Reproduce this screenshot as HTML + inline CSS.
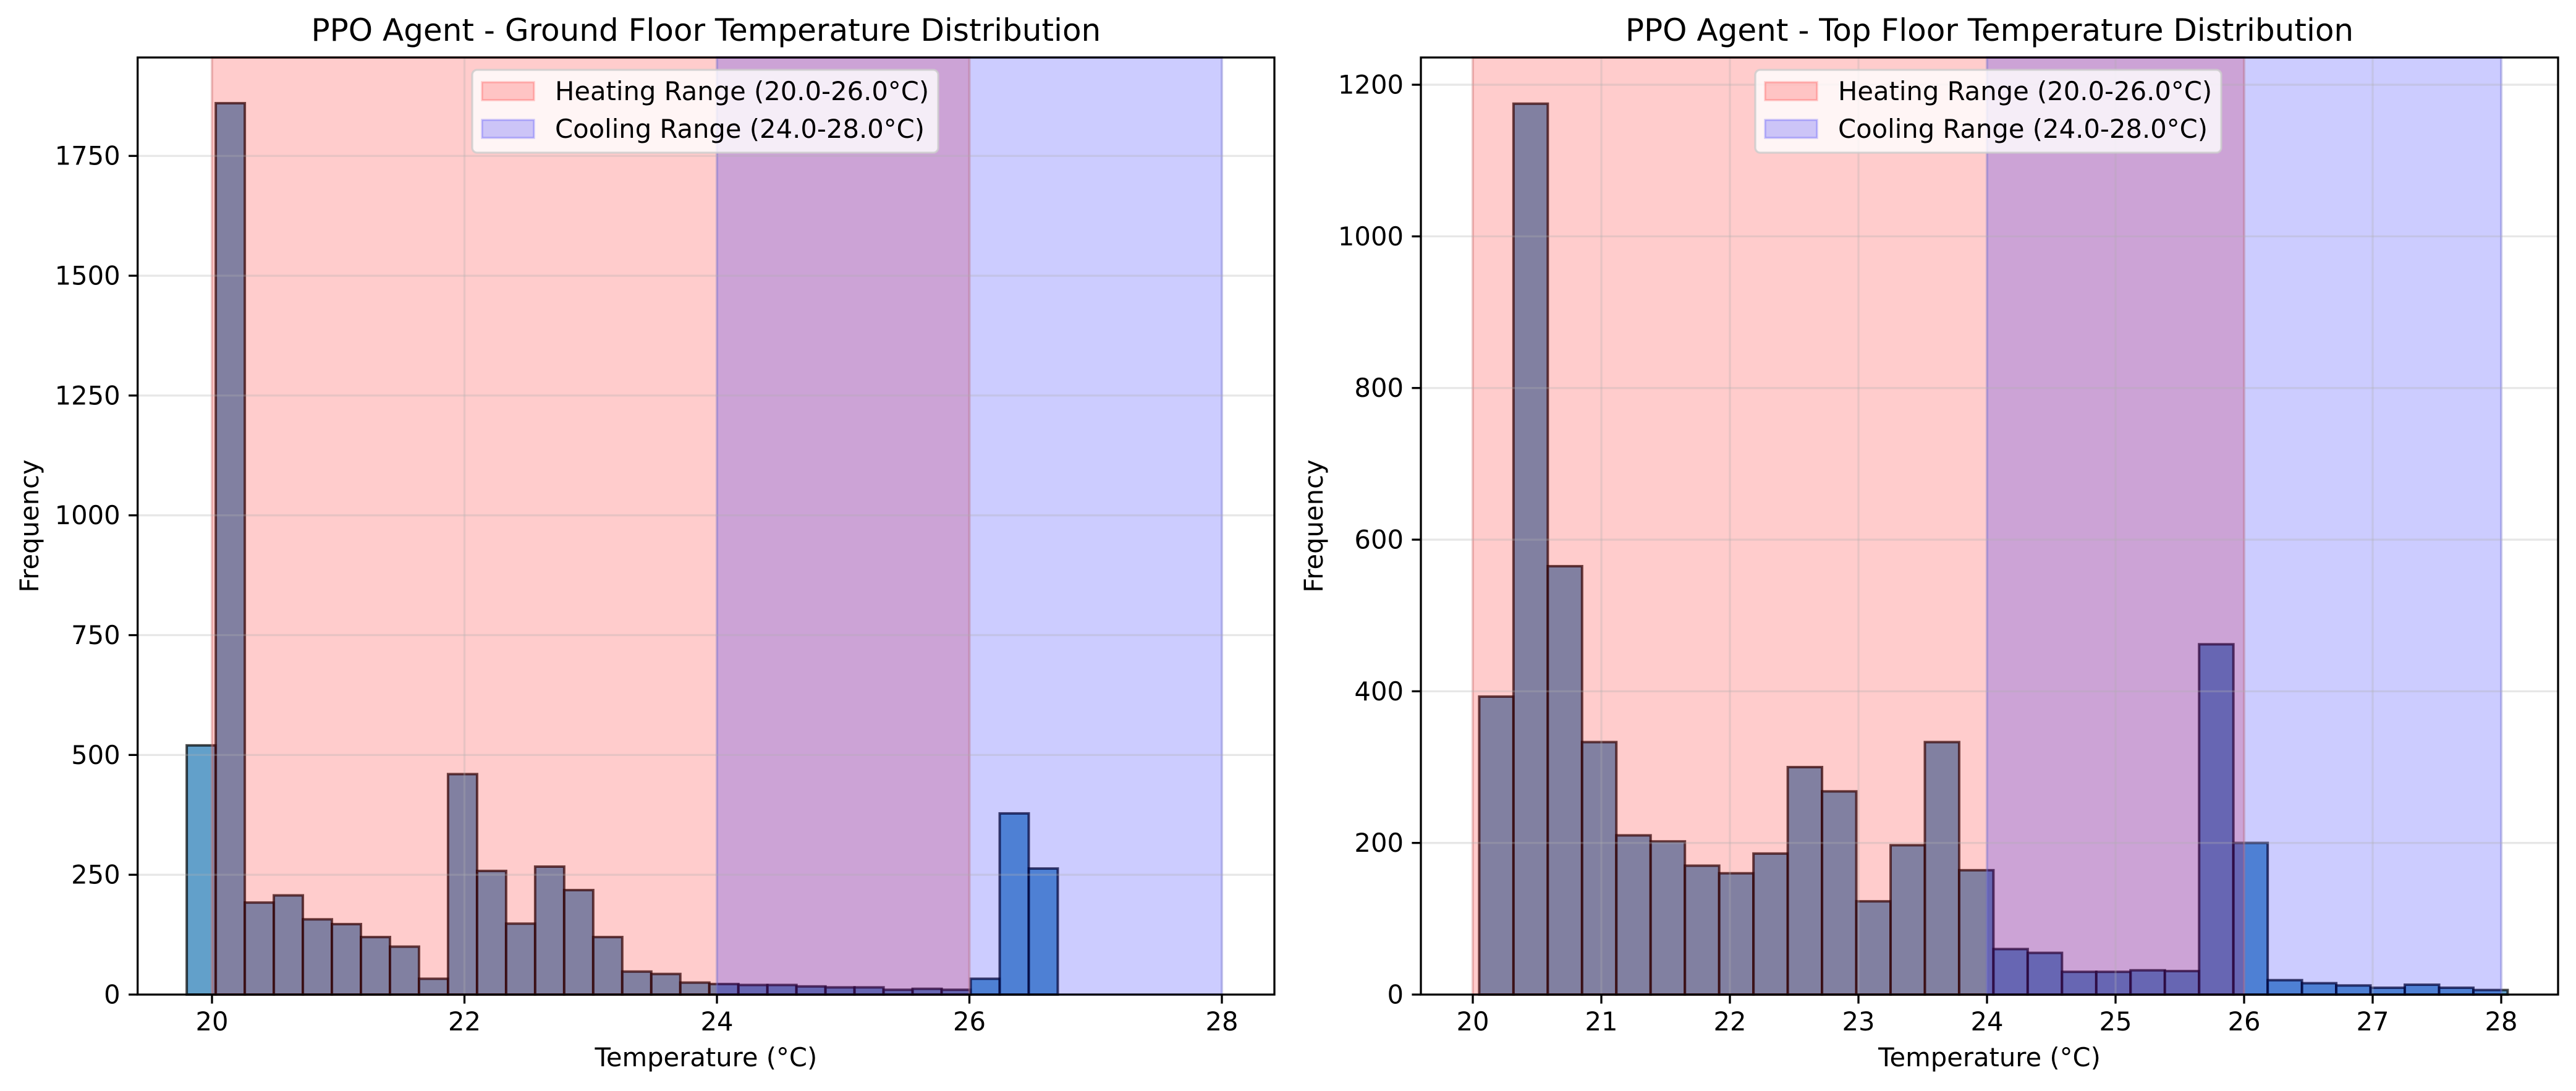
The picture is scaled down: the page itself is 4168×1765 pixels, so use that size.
<!DOCTYPE html>
<html><head><meta charset="utf-8"><style>
html,body{margin:0;padding:0;background:#fff;}
svg{display:block;font-family:"DejaVu Sans","Liberation Sans",sans-serif;}
</style></head><body>
<svg id="fig" width="4168" height="1765" viewBox="0 0 4168 1765" xmlns="http://www.w3.org/2000/svg"></svg>
<script>
// ---- data ----
const groundBinStart = 19.80;
const groundBinWidth = 0.23;
const groundCounts = [520,1860,192,207,157,147,120,100,33,460,258,148,267,218,120,48,43,25,22,20,20,17,15,15,10,12,10,33,378,263];
const groundYTicks = [0,250,500,750,1000,1250,1500,1750];
const groundXTicks = [20,22,24,26,28];
const topBinStart = 20.05;
const topBinWidth = 0.26667;
const topCounts = [393,1175,565,333,210,202,170,160,186,300,268,123,197,333,164,60,55,30,30,32,31,462,200,19,15,12,9,13,9,6];
const topYTicks = [0,200,400,600,800,1000,1200];
const topXTicks = [20,21,22,23,24,25,26,27,28];
const heatingRange = [20.0,26.0];
const coolingRange = [24.0,28.0];
const titles = ["PPO Agent - Ground Floor Temperature Distribution","PPO Agent - Top Floor Temperature Distribution"];
const legendLabels = ["Heating Range (20.0-26.0°C)","Cooling Range (24.0-28.0°C)"];

const NS="http://www.w3.org/2000/svg";
const svg=document.getElementById('fig');
function mk(tag,attrs,parent){const e=document.createElementNS(NS,tag);for(const k in attrs)e.setAttribute(k,attrs[k]);(parent||svg).appendChild(e);return e;}

function panel(cfg){
  const g=mk('g',{});
  
  
  const L=cfg.left,R=cfg.right,T=93,B=1609;
  const xs=v=>cfg.x0px+(v-cfg.x0)*cfg.xk;
  const ys=v=>B-v*cfg.yk;
  // bars
  cfg.counts.forEach((c,i)=>{
    const a=cfg.binStart+i*cfg.binWidth;
    const r=mk('rect',{x:xs(a),y:ys(c),width:xs(a+cfg.binWidth)-xs(a),height:B-ys(c),fill:'#1f77b4','fill-opacity':0.7,stroke:'#000','stroke-opacity':0.7,'stroke-width':4},g);
    
    
  });
  // spans
  const hs=mk('rect',{x:xs(heatingRange[0]),y:T,width:xs(heatingRange[1])-xs(heatingRange[0]),height:B-T,fill:'#ff0000','fill-opacity':0.2,stroke:'#ff0000','stroke-opacity':0.2,'stroke-width':4},g);
  
  
  const cs=mk('rect',{x:xs(coolingRange[0]),y:T,width:xs(coolingRange[1])-xs(coolingRange[0]),height:B-T,fill:'#0000ff','fill-opacity':0.2,stroke:'#0000ff','stroke-opacity':0.2,'stroke-width':4},g);
  
  
  // grid
  cfg.yticks.forEach(v=>{mk('line',{x1:L,x2:R,y1:ys(v),y2:ys(v),stroke:'#b0b0b0','stroke-opacity':0.3,'stroke-width':3.3},g);});
  cfg.xticks.forEach(v=>{mk('line',{x1:xs(v),x2:xs(v),y1:T,y2:B,stroke:'#b0b0b0','stroke-opacity':0.3,'stroke-width':3.3},g);});
  // axes frame
  const fr=mk('rect',{x:L,y:T,width:R-L,height:B-T,fill:'none',stroke:'#000','stroke-width':3.3},g);
  
  
  // ticks
  cfg.yticks.forEach(v=>{
    mk('line',{x1:L-14.6,x2:L,y1:ys(v),y2:ys(v),stroke:'#000','stroke-width':3.3},g);
    const t=mk('text',{x:L-28,y:ys(v)+14.5,'text-anchor':'end','font-size':41.7,fill:'#000'},g);
    t.textContent=v;
    
    
  });
  cfg.xticks.forEach(v=>{
    mk('line',{x1:xs(v),x2:xs(v),y1:B,y2:B+14.6,stroke:'#000','stroke-width':3.3},g);
    const t=mk('text',{x:xs(v),y:B+58,'text-anchor':'middle','font-size':41.7,fill:'#000'},g);
    t.textContent=v;
    
    
  });
  const tt=mk('text',{x:(L+R)/2,y:66,'text-anchor':'middle','font-size':50,fill:'#000'},g);
  tt.textContent=cfg.title;
  
  
  const xl=mk('text',{x:(L+R)/2,y:1725,'text-anchor':'middle','font-size':41.7,fill:'#000'},g);
  xl.textContent='Temperature (°C)';
  
  
  const yx=cfg.ylabelX;
  const yl=mk('text',{x:yx,y:(T+B)/2,'text-anchor':'middle','font-size':41.7,fill:'#000',transform:`rotate(-90 ${yx} ${(T+B)/2})`},g);
  yl.textContent='Frequency';
  
  
  // legend
  const lx=cfg.legendX, ly=113;
  const lg=mk('g',{},g);
  
  
  mk('rect',{x:lx,y:ly,width:754,height:134,rx:8,fill:'#fff','fill-opacity':0.8,stroke:'#cccccc','stroke-opacity':0.8,'stroke-width':3.3},lg);
  const cols=[['#ff0000'],['#0000ff']];
  legendLabels.forEach((lab,i)=>{
    const cy=ly+34+i*61;
    const e=mk('g',{},lg);
    
    
    mk('rect',{x:lx+16,y:cy-14,width:84,height:29,fill:cols[i][0],'fill-opacity':0.2,stroke:cols[i][0],'stroke-opacity':0.2,'stroke-width':3.3},e);
    const t=mk('text',{x:lx+134,y:cy+15,'font-size':41.7,fill:'#000'},e);
    t.textContent=lab;
  });
}

panel({name:'ground-floor-chart',left:222.7,right:2062,x0:20,x0px:343,xk:204.25,yk:0.7753,
  counts:groundCounts,binStart:groundBinStart,binWidth:groundBinWidth,
  yticks:groundYTicks,xticks:groundXTicks,title:titles[0],ylabelX:62,legendX:764});
panel({name:'top-floor-chart',left:2299,right:4139,x0:20,x0px:2383,xk:208,yk:1.2266,
  counts:topCounts,binStart:topBinStart,binWidth:topBinWidth,
  yticks:topYTicks,xticks:topXTicks,title:titles[1],ylabelX:2140,legendX:2840});
</script>
</body></html>
